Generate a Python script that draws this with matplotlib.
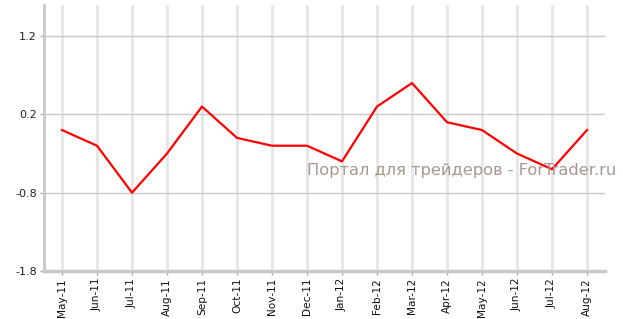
import matplotlib
matplotlib.use("Agg")
import matplotlib.pyplot as plt

months = ["May-11", "Jun-11", "Jul-11", "Aug-11", "Sep-11", "Oct-11", "Nov-11", "Dec-11",
          "Jan-12", "Feb-12", "Mar-12", "Apr-12", "May-12", "Jun-12", "Jul-12", "Aug-12"]
values = [0.0, -0.2, -0.8, -0.3, 0.3, -0.1, -0.2, -0.2,
          -0.4, 0.3, 0.6, 0.1, 0.0, -0.3, -0.5, 0.0]
yticks = [1.2, 0.2, -0.8, -1.8]

W, H = 623, 319
fig = plt.figure(figsize=(W / 100, H / 100), dpi=100)
ax = fig.add_axes([44 / W, 48 / H, (605 - 44) / W, (271 - 5) / H])

x = list(range(len(months)))
for xi in x:
    ax.axvline(xi, color="#e6e6e6", lw=2, zorder=1)
for yt in yticks:
    ax.axhline(yt, color="#c8c8c8", lw=1, zorder=1)

ax.plot(x, values, color="#ff0000", lw=1.6, zorder=3)

ax.set_xlim(-0.514, len(months) - 1 + 0.514)
ax.set_ylim(-1.8, 1.597)
ax.set_yticks(yticks)
ax.set_yticklabels([f"{v:.1f}" for v in yticks], fontsize=8, color="#222222")
ax.set_xticks(x)
ax.set_xticklabels(months, rotation=90, fontsize=7.6, color="#111111")
ax.tick_params(axis="both", color="#aaaaaa", length=3, width=1, pad=2)

for s in ["top", "right"]:
    ax.spines[s].set_visible(False)
ax.spines["left"].set_color("#c8c8c8")
ax.spines["left"].set_linewidth(2)
ax.spines["bottom"].set_color("#c8c8c8")
ax.spines["bottom"].set_linewidth(2.5)

fig.text(307 / W, 1 - 170 / H, "Портал для трейдеров - ForTrader.ru", fontsize=11.7,
         color="#a8988f", va="center", ha="left")

fig.savefig("out.png", dpi=100)
